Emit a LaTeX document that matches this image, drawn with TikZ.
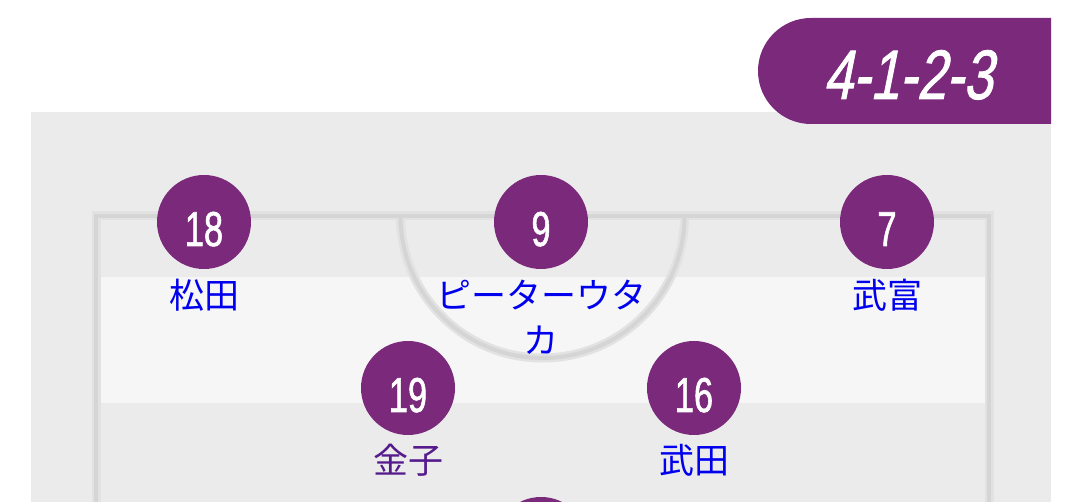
\documentclass[tikz,border=0pt]{standalone}
\usepackage{fontspec}
\newfontfamily\numfont[FakeStretch=0.7,FakeBold=1.2]{Liberation Sans}
\newfontfamily\tabfont[FakeStretch=0.75,FakeSlant=0.2,FakeBold=1.2]{Liberation Sans}
\newfontfamily\jpfont{Noto Sans CJK JP}
\definecolor{teampurple}{RGB}{123,41,123}
\definecolor{fieldgray}{RGB}{235,235,235}
\definecolor{stripegray}{RGB}{246,246,246}
\definecolor{lineshade}{RGB}{226,226,226}
\definecolor{linecore}{RGB}{213,213,213}
\definecolor{linkblue}{RGB}{0,0,238}
\definecolor{linkvisited}{RGB}{85,26,139}
\tikzstyle{node_player} = [circle, fill=teampurple, inner sep=0pt, minimum size=94pt]
\tikzstyle{node_number} = [anchor=base, inner sep=0pt, text=white, font=\numfont\fontsize{49}{49}\selectfont]
\tikzstyle{node_name} = [anchor=base, inner sep=0pt, text=linkblue, align=center, font=\jpfont\fontsize{35}{45}\selectfont]
\tikzstyle{line_shade} = [lineshade, line width=9pt]
\tikzstyle{line_core} = [linecore, line width=4pt]

\begin{document}
\begin{tikzpicture}[x=1pt,y=-1pt]
\useasboundingbox (0,0) rectangle (1080,502);
\clip (0,0) rectangle (1080,502);
% pitch
\fill[fieldgray] (31,112) rectangle (1051,520);
\fill[stripegray] (93,277) rectangle (993,403);
\draw[line_shade] (96,540) -- (96,216) -- (989,216) -- (989,540);
\draw[line_shade] (400.5,216) arc (180:360:142pt);
\draw[line_core] (96,540) -- (96,216) -- (989,216) -- (989,540);
\draw[line_core] (400.5,216) arc (180:360:142pt);
% formation tab
\fill[teampurple] (1051,18) -- (811,18) arc (90:270:53pt) -- (1051,124) -- cycle;
\node (T) at (908,99) [anchor=base, inner sep=0pt, text=white, font=\tabfont\fontsize{70}{70}\selectfont] {4-1-2-3};
% players
\node (A) at (204,222) [node_player] {};
\node (B) at (541,222) [node_player] {};
\node (C) at (887,222) [node_player] {};
\node (D) at (408,388) [node_player] {};
\node (E) at (694,388) [node_player] {};
\node (F) at (541,544) [node_player] {};
\node (A1) at (204,246) [node_number] {18};
\node (B1) at (541,246) [node_number] {9};
\node (C1) at (887,246) [node_number] {7};
\node (D1) at (408,412) [node_number] {19};
\node (E1) at (694,412) [node_number] {16};
\node (A2) at (204,309) [node_name] {松田};
\node (B2) at (541,354) [node_name] {ピーターウタ\\カ};
\node (C2) at (887,309) [node_name] {武富};
\node (D2) at (408,474) [node_name, text=linkvisited] {金子};
\node (E2) at (694,474) [node_name] {武田};
\end{tikzpicture}
\end{document}
